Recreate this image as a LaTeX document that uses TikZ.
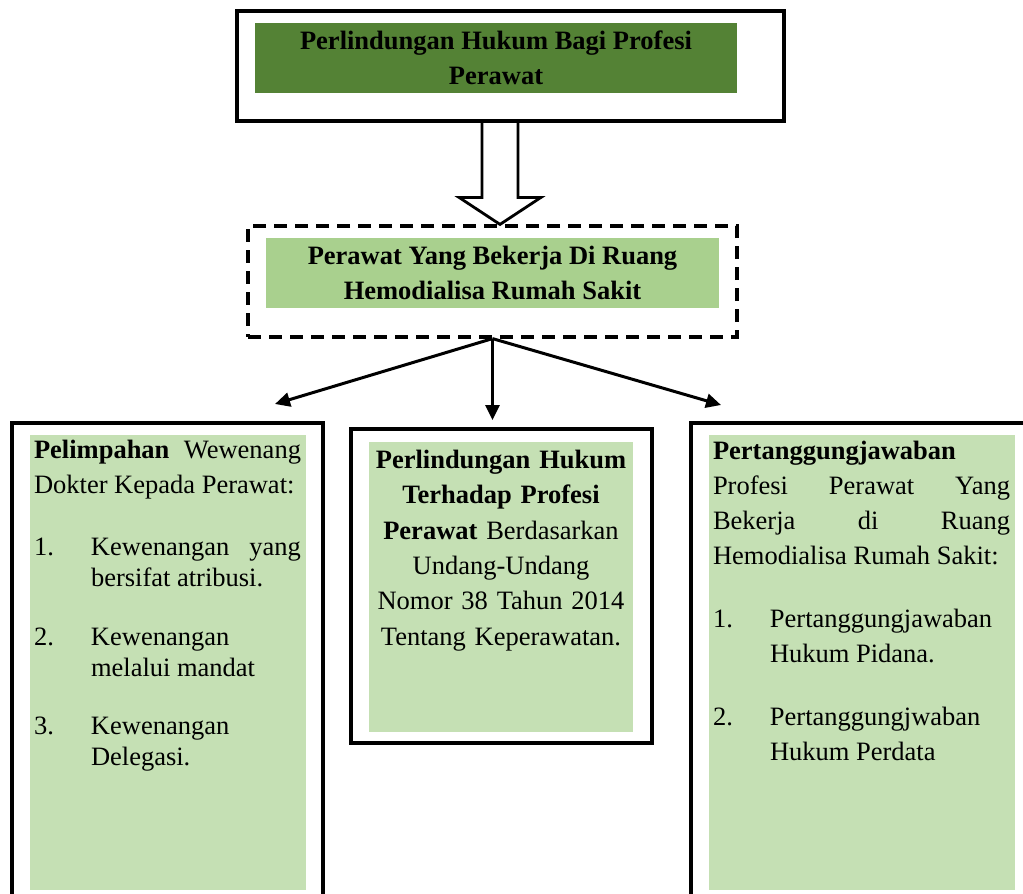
\documentclass[tikz,border=0pt]{standalone}
\usepackage{fontspec}
\setmainfont{Liberation Serif}
\usepackage{tikz}
\usetikzlibrary{arrows.meta,calc}
\definecolor{hdark}{HTML}{548235}
\definecolor{hmid}{HTML}{A9D08E}
\definecolor{hlight}{HTML}{C5E0B4}
\tolerance=10000
\hyphenpenalty=10000
\tikzset{
  frame/.style={draw=black,line width=1.8pt,fill=white,inner sep=0pt},
  dframe/.style={draw=black,line width=1.6pt,dash pattern=on 6.5pt off 4pt,inner sep=0pt},
  gbox/.style={inner sep=0pt},
  ttl/.style={font=\fontsize{13.25pt}{17.5pt}\selectfont\bfseries,align=center},
  txt/.style={font=\fontsize{13.25pt}{17.5pt}\selectfont,inner sep=0pt},
  arr/.style={-{Triangle[length=7.5pt,width=7pt]},line width=1.5pt},
  hollow/.style={line width=1.4pt,line join=miter},
}
\newcommand{\itm}[2]{{\hangindent=28.5pt\hangafter=1\noindent\makebox[28.5pt][l]{#1}#2\par}}

\begin{document}
\begin{tikzpicture}[x=0.5pt,y=-0.5pt]
  \useasboundingbox (0,0) rectangle (1023,894);
  \clip (0,0) rectangle (1023,894);
  % top
  \node[frame,minimum width=273.5pt,minimum height=55pt] (toph) at (510.5,66) {};
  \node[gbox,fill=hdark,minimum width=241pt,minimum height=35pt,ttl] (topg) at (496,58)
    {Perlindungan Hukum Bagi Profesi\\Perawat};
  % middle
  \node[dframe,minimum width=244.5pt,minimum height=55.5pt] (midh) at (492.5,281.5) {};
  \node[gbox,fill=hmid,minimum width=226.5pt,minimum height=35pt,ttl] (midg) at (492.5,273)
    {Perawat Yang Bekerja Di Ruang\\Hemodialisa Rumah Sakit};
  % hollow arrow
  \coordinate (hs) at ($(toph.south)+(-10.5,0)$);
  \coordinate (ht) at ($(midh.north)+(7.5,0)$);
  \draw[hollow] ($(hs)+(-18,0)$) -- ($(ht)+(-18,-27)$) -- ($(ht)+(-41,-27)$) -- (ht)
    -- ($(ht)+(41,-27)$) -- ($(ht)+(18,-27)$) -- ($(hs)+(18,0)$);
  % bottom boxes
  \node[frame,minimum width=155.5pt,minimum height=268.5pt] (lb) at (167.5,691.5) {};
  \node[gbox,fill=hlight,minimum width=138pt,minimum height=227.5pt] (lg) at (168,662.5) {};
  \node[frame,minimum width=150.5pt,minimum height=157pt] (cb) at (501.5,586) {};
  \node[gbox,fill=hlight,minimum width=132pt,minimum height=145pt] (cg) at (501,587) {};
  \node[frame,minimum width=184.5pt,minimum height=268.5pt] (rb) at (875.5,691.5) {};
  \node[gbox,fill=hlight,minimum width=153pt,minimum height=227.5pt] (rg) at (862,662.5) {};
  % texts
  \node[txt,text width=133.5pt,align=justify,anchor=base west] (ltx) at ($(lg.north west)+(4,24)$) {%
    \textbf{Pelimpahan} Wewenang\linebreak Dokter Kepada Perawat:\par
    \baselineskip=15.5pt
    \vspace{15.5pt}
    \itm{1.}{Kewenangan yang\linebreak bersifat atribusi.}
    \vspace{14pt}
    \itm{2.}{Kewenangan\newline melalui mandat}
    \vspace{13.5pt}
    \itm{3.}{Kewenangan\newline Delegasi.}};
  \node[txt,text width=132pt,align=center,anchor=base,font=\fontsize{13.25pt}{17.65pt}\selectfont] (ctx) at ($(cg.north)+(0,27)$) {%
    \textbf{Perlindungan Hukum}\\ \textbf{Terhadap Profesi}\\ \textbf{Perawat} Berdasarkan\\
    Undang-Undang\\ Nomor 38 Tahun 2014\\ Tentang Keperawatan.};
  \node[txt,text width=148.5pt,align=justify,anchor=base west] (rtx) at ($(rg.north west)+(4,25)$) {%
    \textbf{Pertanggungjawaban}\newline Profesi Perawat Yang\linebreak Bekerja di Ruang\linebreak
    Hemodialisa Rumah Sakit:\par
    \vspace{14pt}
    \itm{1.}{Pertanggungjawaban\newline Hukum Pidana.}
    \vspace{14pt}
    \itm{2.}{Pertanggungjwaban\newline Hukum Perdata}};
  % connectors
  \coordinate (tipl) at (275,404);
  \coordinate (tipc) at (492.5,420);
  \coordinate (tipr) at (721,405);
  \draw[arr] (midh.south) -- (tipl);
  \draw[arr] (midh.south) -- (tipc);
  \draw[arr] (midh.south) -- (tipr);
\end{tikzpicture}
\end{document}
